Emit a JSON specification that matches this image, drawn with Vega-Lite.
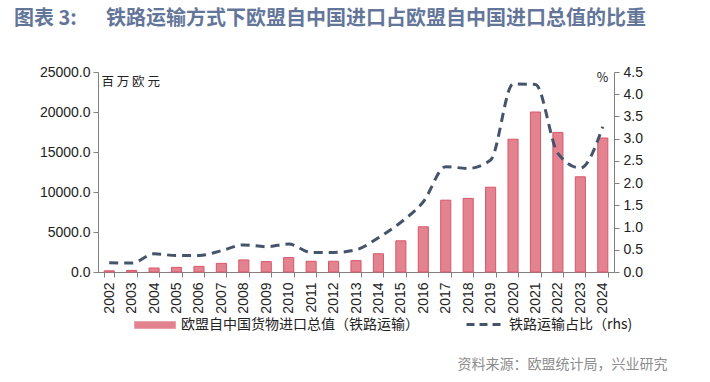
{
  "$schema": "https://vega.github.io/schema/vega-lite/v6.json",
  "width": 516,
  "height": 200,
  "autosize": {"type": "none"},
  "padding": {"left": 98, "top": 72, "right": 96, "bottom": 110},
  "background": "white",
  "title": {
    "text": "图表 3:\u3000\u00a0 铁路运输方式下欧盟自中国进口占欧盟自中国进口总值的比重",
    "anchor": "start",
    "frame": "group",
    "dx": -84,
    "font": "Noto Sans CJK SC",
    "fontSize": 20,
    "fontWeight": "bold",
    "color": "#63769a",
    "offset": 36
  },
  "config": {
    "view": {"stroke": null},
    "axis": {
      "labelFont": "Liberation Sans",
      "labelFontSize": 14,
      "labelColor": "#222222",
      "domainColor": "#808080",
      "tickColor": "#808080",
      "tickSize": 5,
      "grid": false,
      "titleFont": "Noto Sans CJK SC",
      "titleFontWeight": "normal"
    },
    "legend": {
      "labelFont": "Noto Sans CJK SC",
      "labelFontSize": 14,
      "labelColor": "#222222",
      "labelLimit": 400,
      "padding": 0,
      "title": null
    }
  },
  "data": {
    "values": [
      {"year": "2002", "value": 150, "share": 0.21},
      {"year": "2003", "value": 200, "share": 0.2},
      {"year": "2004", "value": 500, "share": 0.41},
      {"year": "2005", "value": 580, "share": 0.37},
      {"year": "2006", "value": 700, "share": 0.37},
      {"year": "2007", "value": 1080, "share": 0.48},
      {"year": "2008", "value": 1510, "share": 0.61},
      {"year": "2009", "value": 1300, "share": 0.57},
      {"year": "2010", "value": 1800, "share": 0.63},
      {"year": "2011", "value": 1340, "share": 0.44},
      {"year": "2012", "value": 1340, "share": 0.44},
      {"year": "2013", "value": 1420, "share": 0.5},
      {"year": "2014", "value": 2280, "share": 0.77},
      {"year": "2015", "value": 3900, "share": 1.12},
      {"year": "2016", "value": 5650, "share": 1.58},
      {"year": "2017", "value": 8980, "share": 2.37},
      {"year": "2018", "value": 9200, "share": 2.33},
      {"year": "2019", "value": 10600, "share": 2.52},
      {"year": "2020", "value": 16600, "share": 4.23},
      {"year": "2021", "value": 20000, "share": 4.22},
      {"year": "2022", "value": 17450, "share": 2.67},
      {"year": "2023", "value": 11900, "share": 2.34},
      {"year": "2024", "value": 16750, "share": 3.27}
    ]
  },
  "layer": [
    {
      "mark": {"type": "bar", "stroke": "#d9566a", "strokeWidth": 1},
      "encoding": {
        "x": {
          "field": "year",
          "type": "ordinal",
          "scale": {"paddingInner": 0.55, "paddingOuter": 0.275},
          "axis": {
            "labelAngle": -90,
            "labelAlign": "right",
            "labelBaseline": "middle",
            "labelPadding": 5,
            "tickBand": "extent",
            "title": "资料来源：欧盟统计局，兴业研究",
            "titleX": 569,
            "titleY": 96,
            "titleAlign": "right",
            "titleAnchor": null,
            "titleBaseline": "alphabetic",
            "titleAngle": 0,
            "titleColor": "#8c8c8c",
            "titleFontSize": 14
          }
        },
        "y": {
          "field": "value",
          "type": "quantitative",
          "scale": {"domain": [0, 25000], "nice": false},
          "axis": {
            "values": [0, 5000, 10000, 15000, 20000, 25000],
            "format": ".1f",
            "labelPadding": 3,
            "title": "百 万 欧 元",
            "titleAngle": 0,
            "titleX": 3,
            "titleY": 9,
            "titleAlign": "left",
            "titleBaseline": "middle",
            "titleFontSize": 12.5,
            "titleColor": "#222222"
          }
        },
        "fill": {
          "datum": "欧盟自中国货物进口总值（铁路运输）",
          "scale": {"range": ["#e2838f"]},
          "legend": {
            "orient": "none",
            "legendX": 36,
            "legendY": 232,
            "symbolType": "M-1,-0.17H1V0.17H-1Z",
            "symbolSize": 1681,
            "symbolStrokeColor": "#e8a0a8",
            "symbolStrokeWidth": 1,
            "labelOffset": 5
          }
        }
      }
    },
    {
      "mark": {"type": "line", "interpolate": "monotone", "strokeDash": [9, 6], "strokeWidth": 3},
      "encoding": {
        "x": {"field": "year", "type": "ordinal"},
        "y": {
          "field": "share",
          "type": "quantitative",
          "scale": {"domain": [0, 4.5], "nice": false},
          "axis": {
            "orient": "right",
            "values": [0, 0.5, 1, 1.5, 2, 2.5, 3, 3.5, 4, 4.5],
            "format": ".1f",
            "labelPadding": 4,
            "title": "%",
            "titleAngle": 0,
            "titleX": -12,
            "titleY": 5,
            "titleAlign": "center",
            "titleBaseline": "middle",
            "titleFontSize": 12.5,
            "titleColor": "#222222"
          }
        },
        "stroke": {
          "datum": "铁路运输占比（rhs)",
          "scale": {"range": ["#44546a"]},
          "legend": {
            "orient": "none",
            "legendX": 367,
            "legendY": 232,
            "symbolType": "stroke",
            "symbolSize": 1444,
            "symbolDash": [8, 5],
            "symbolStrokeWidth": 3,
            "labelOffset": 3
          }
        }
      }
    }
  ],
  "resolve": {"scale": {"y": "independent", "fill": "independent", "stroke": "independent"}}
}
